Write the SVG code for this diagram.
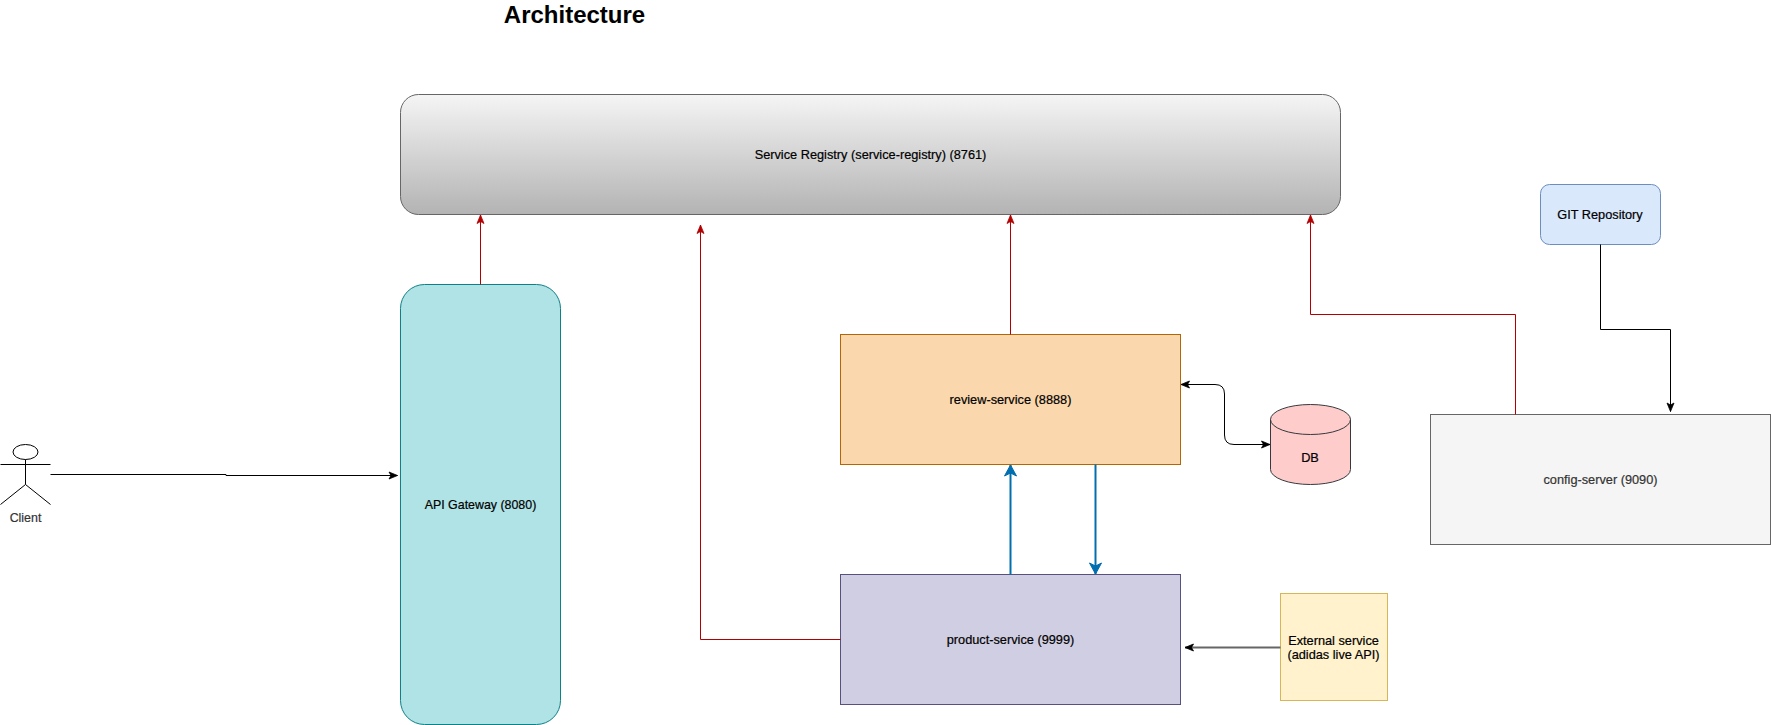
<svg xmlns="http://www.w3.org/2000/svg" width="1771" height="725" viewBox="0 0 1771 725">
<style>
text{font-family:"Liberation Sans",Arial,sans-serif;font-size:12.75px;text-anchor:middle;fill:#000;stroke:#000;stroke-width:0.2px}
.mid{font-size:12.4px}
.grey{fill:#333;stroke:#333}
.title{font-weight:bold;font-size:24px;stroke:none}
.con{fill:none;stroke-linejoin:miter}
.red{stroke:#B20000;stroke-width:1}
.blk{stroke:#000;stroke-width:1}
.blu{stroke:#006EAF;stroke-width:2}
</style>
<defs>
<linearGradient id="reg" x1="0" y1="0" x2="0" y2="1"><stop offset="0" stop-color="#F5F5F5"/><stop offset="1" stop-color="#B3B3B3"/></linearGradient>
<marker id="aR" markerUnits="userSpaceOnUse" markerWidth="10" markerHeight="10" refX="9" refY="4" orient="auto-start-reverse" overflow="visible"><path d="M0.5,0.5 L9,4 L0.5,7.5 L2.5,4 Z" fill="#B20000" stroke="#B20000" stroke-width="0.8"/></marker>
<marker id="aK" markerUnits="userSpaceOnUse" markerWidth="10" markerHeight="10" refX="9" refY="4" orient="auto-start-reverse" overflow="visible"><path d="M0.5,0.5 L9,4 L0.5,7.5 L2.5,4 Z" fill="#000" stroke="#000" stroke-width="0.8"/></marker>
<marker id="aB" markerUnits="userSpaceOnUse" markerWidth="14" markerHeight="14" refX="12" refY="7" orient="auto" overflow="visible"><path d="M1,1 L12,7 L1,13 L4,7 Z" fill="#006EAF" stroke="#006EAF"/></marker>
</defs>
<g id="title"><text class="title" x="574.5" y="23">Architecture</text></g>
<g id="service-registry"><rect x="400.5" y="94.5" width="940" height="120" rx="18" ry="18" fill="url(#reg)" stroke="#666"/><text x="870.5" y="159">Service Registry (service-registry) (8761)</text></g>
<g id="api-gateway"><rect x="400.5" y="284.5" width="160" height="440" rx="24" ry="24" fill="#B0E3E6" stroke="#0E8088"/><text class="mid" x="480.5" y="509">API Gateway (8080)</text></g>
<g id="review-service"><rect x="840.5" y="334.5" width="340" height="130" fill="#FAD7AC" stroke="#B46504"/><text x="1010.5" y="404">review-service (8888)</text></g>
<g id="product-service"><rect x="840.5" y="574.5" width="340" height="130" fill="#D0CEE2" stroke="#56517E"/><text x="1010.5" y="644">product-service (9999)</text></g>
<g id="config-server"><rect x="1430.5" y="414.5" width="340" height="130" fill="#F5F5F5" stroke="#666"/><text class="grey" x="1600.5" y="484">config-server (9090)</text></g>
<g id="git-repository"><rect x="1540.5" y="184.5" width="120" height="60" rx="9" ry="9" fill="#DAE8FC" stroke="#6C8EBF"/><text x="1600" y="219">GIT Repository</text></g>
<g id="db"><path d="M1270.5,419.5 A40,15 0 0 1 1350.5,419.5 V469.5 A40,15 0 0 1 1270.5,469.5 Z" fill="#FFCCCC" stroke="#36393D"/><path d="M1270.5,419.5 A40,15 0 0 0 1350.5,419.5" fill="none" stroke="#36393D"/><text x="1310" y="462">DB</text></g>
<g id="external-service"><rect x="1280.5" y="593.5" width="107" height="107" fill="#FFF2CC" stroke="#D6B656"/><text x="1333.5" y="645">External service</text><text x="1333.5" y="659">(adidas live API)</text></g>
<g id="client"><g fill="none" stroke="#000"><ellipse cx="25.5" cy="452" rx="12.5" ry="7.5" fill="#fff"/><path d="M25.5,459.5 V484.5 M0.5,464.5 H50.5 M0.5,504.5 L25.5,484.5 L50.5,504.5"/></g><text class="mid grey" x="25.5" y="522">Client</text></g>
<g id="connectors">
<path class="con red" d="M480.5,284.5 V215" marker-end="url(#aR)"/>
<path class="con red" d="M840.5,639.5 H700.5 V225" marker-end="url(#aR)"/>
<path class="con red" d="M1010.5,334.5 V215" marker-end="url(#aR)"/>
<path class="con red" d="M1515.5,414.5 V314.5 H1310.5 V215" marker-end="url(#aR)"/>
<path class="con blk" d="M1600.5,244.5 V329.5 H1670.5 V411.5" marker-end="url(#aK)"/>
<path class="con blk" d="M50.5,474.5 H226 V475.5 H397.5" marker-end="url(#aK)"/>
<path class="con blk" d="M1181,384.5 H1215 Q1224.5,384.5 1224.5,394 V435 Q1224.5,444.5 1234,444.5 H1270" marker-start="url(#aK)" marker-end="url(#aK)"/>
<path class="con" d="M1280.5,647.5 H1185" stroke="#666" stroke-width="2" marker-end="url(#aK)"/>
<path class="con blu" d="M1010.5,574.5 V465" marker-end="url(#aB)"/>
<path class="con blu" d="M1095.5,464.5 V574" marker-end="url(#aB)"/>
</g>
</svg>
